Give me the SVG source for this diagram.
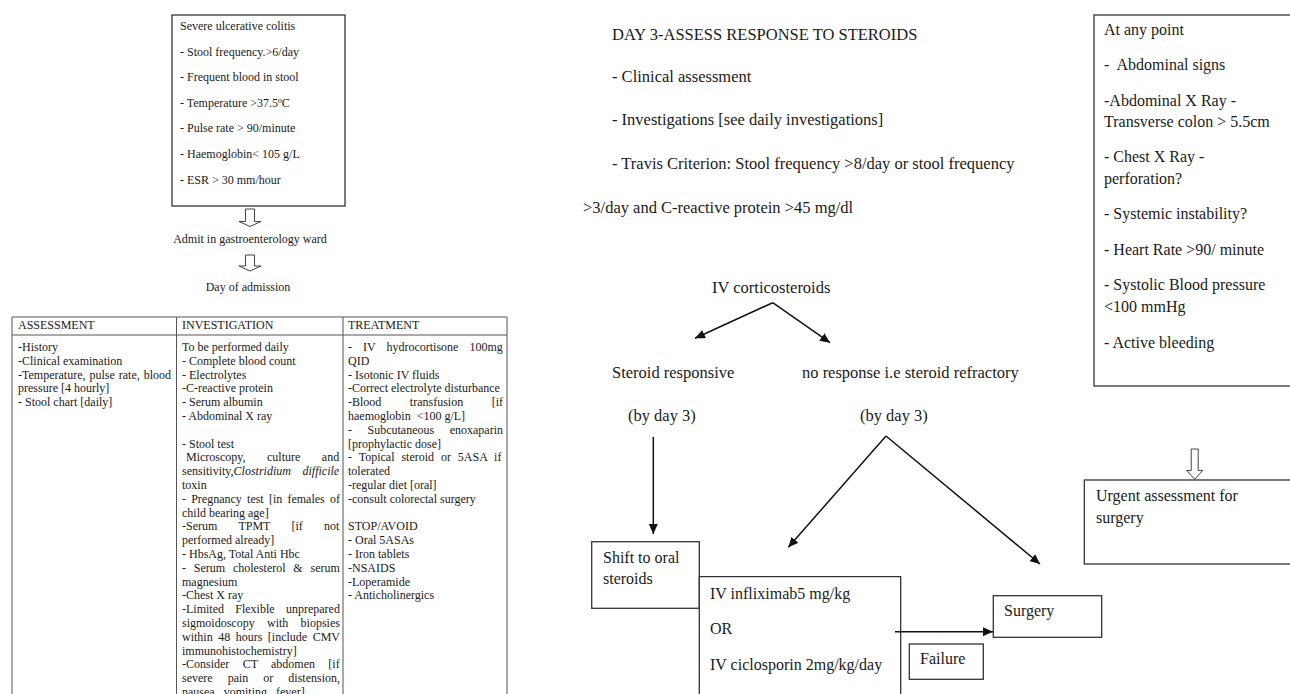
<svg xmlns="http://www.w3.org/2000/svg" width="1290" height="694" viewBox="0 0 1290 694">
<defs>
<style>
.s{font-family:"Liberation Serif","Times New Roman",serif;fill:#1a1a1a}
.t12{font-size:12px}
.t16{font-size:16.5px}
.t15{font-size:16px}
.box{fill:#fff;stroke:#333;stroke-width:1.3}
.grid{stroke:#555;stroke-width:1;fill:none}
.conn{stroke:#111;stroke-width:1.5;fill:none;marker-end:url(#ah)}
.hollow{fill:#fff;stroke:#444;stroke-width:1}
</style>
<marker id="ah" markerUnits="userSpaceOnUse" markerWidth="11" markerHeight="9" refX="10" refY="4.5" orient="auto">
<path d="M0,0 L10,4.5 L0,9 z" fill="#111"/>
</marker>
</defs>
<rect width="1290" height="694" fill="#fff"/>

<g id="severe-uc">
<rect class="box" x="172" y="15" width="173" height="191"/>
<g class="s t12">
<text x="180" y="30">Severe ulcerative colitis</text>
<text x="180" y="56">- Stool frequency.&gt;6/day</text>
<text x="180" y="81">- Frequent blood in stool</text>
<text x="180" y="107">- Temperature &gt;37.5ºC</text>
<text x="180" y="132">- Pulse rate &gt; 90/minute</text>
<text x="180" y="158">- Haemoglobin&lt; 105 g/L</text>
<text x="180" y="184">- ESR &gt; 30 mm/hour</text>
</g>
</g>

<g id="admit">
<text class="s t12" x="250" y="243" text-anchor="middle">Admit in gastroenterology ward</text>
</g>
<g id="day-admission">
<text class="s t12" x="248" y="291" text-anchor="middle">Day of admission</text>
</g>

<g id="table">
<path class="grid" d="M12,317 H507 M12,335 H507 M12,317 V700 M176.5,317 V700 M343,317 V700 M507,317 V700"/>
<g class="s t12">
<text x="18" y="329">ASSESSMENT</text>
<text x="182" y="329">INVESTIGATION</text>
<text x="348" y="329">TREATMENT</text>

<text x="18" y="351">-History</text>
<text x="18" y="364.8">-Clinical examination</text>
<text x="18" y="378.6" style="word-spacing:1px">-Temperature, pulse rate, blood</text>
<text x="18" y="392.4">pressure [4 hourly]</text>
<text x="18" y="406.2">- Stool chart [daily]</text>

<text x="182" y="351">To be performed daily</text>
<text x="182" y="364.8">- Complete blood count</text>
<text x="182" y="378.6">- Electrolytes</text>
<text x="182" y="392.4">-C-reactive protein</text>
<text x="182" y="406.2">- Serum albumin</text>
<text x="182" y="420">- Abdominal X ray</text>
<text x="182" y="447.6">- Stool test</text>
<text x="186" y="461.4" style="word-spacing:18.5px">Microscopy, culture and</text>
<text x="182" y="475.2" style="word-spacing:8.6px">sensitivity,<tspan font-style="italic">Clostridium difficile</tspan></text>
<text x="182" y="489">toxin</text>
<text x="182" y="502.8" style="word-spacing:2.2px">- Pregnancy test [in females of</text>
<text x="182" y="516.6">child bearing age]</text>
<text x="182" y="530.4" style="word-spacing:18.3px">-Serum TPMT [if not</text>
<text x="182" y="544.2">performed already]</text>
<text x="182" y="558">- HbsAg, Total Anti Hbc</text>
<text x="182" y="571.8" style="word-spacing:4.8px">- Serum cholesterol &amp; serum</text>
<text x="182" y="585.6">magnesium</text>
<text x="182" y="599.4">-Chest X ray</text>
<text x="182" y="613.2" style="word-spacing:8.3px">-Limited Flexible unprepared</text>
<text x="182" y="627" style="word-spacing:9.3px">sigmoidoscopy with biopsies</text>
<text x="182" y="640.8" style="word-spacing:2.5px">within 48 hours [include CMV</text>
<text x="182" y="654.6">immunohistochemistry]</text>
<text x="182" y="668.4" style="word-spacing:10.3px">-Consider CT abdomen [if</text>
<text x="182" y="682.2" style="word-spacing:12px">severe pain or distension,</text>
<text x="182" y="696" style="word-spacing:3px">nausea, vomiting, fever]</text>

<text x="348" y="351" style="word-spacing:8px">- IV hydrocortisone 100mg</text>
<text x="348" y="364.8">QID</text>
<text x="348" y="378.6">- Isotonic IV fluids</text>
<text x="348" y="392.4">-Correct electrolyte disturbance</text>
<text x="348" y="406.2" style="word-spacing:25.5px">-Blood transfusion [if</text>
<text x="348" y="420">haemoglobin&#160; &lt;100 g/L]</text>
<text x="348" y="433.8" style="word-spacing:12.5px">- Subcutaneous enoxaparin</text>
<text x="348" y="447.6">[prophylactic dose]</text>
<text x="348" y="461.4" style="word-spacing:3.9px">- Topical steroid or 5ASA if</text>
<text x="348" y="475.2">tolerated</text>
<text x="348" y="489">-regular diet [oral]</text>
<text x="348" y="502.8">-consult colorectal surgery</text>
<text x="348" y="530.4">STOP/AVOID</text>
<text x="348" y="544.2">- Oral 5ASAs</text>
<text x="348" y="558">- Iron tablets</text>
<text x="348" y="571.8">-NSAIDS</text>
<text x="348" y="585.6">-Loperamide</text>
<text x="348" y="599.4">- Anticholinergics</text>
</g>
</g>

<g id="day3">
<g class="s t16">
<text x="612" y="40">DAY 3-ASSESS RESPONSE TO STEROIDS</text>
<text x="612" y="82">- Clinical assessment</text>
<text x="612" y="125">- Investigations [see daily investigations]</text>
<text x="612" y="169">- Travis Criterion: Stool frequency &gt;8/day or stool frequency</text>
<text x="583" y="213">&gt;3/day and C-reactive protein &gt;45 mg/dl</text>
</g>
</g>

<g id="iv-cortico"><text class="s t16" x="712" y="293">IV corticosteroids</text></g>
<g id="steroid-responsive">
<text class="s t16" x="612" y="378">Steroid responsive</text>
<text class="s t16" x="628" y="421">(by day 3)</text>
</g>
<g id="steroid-refractory">
<text class="s t16" x="802" y="378">no response i.e steroid refractory</text>
<text class="s t16" x="860" y="421">(by day 3)</text>
</g>

<g id="shift-oral">
<rect class="box" x="591.7" y="541.7" width="107.6" height="66.6"/>
<text class="s t15" x="603" y="563">Shift to oral</text>
<text class="s t15" x="603" y="584">steroids</text>
</g>

<g id="iv-rescue">
<path class="box" d="M699.3,700 V576.7 H900.7 V700" fill="#fff"/>
<text class="s t15" x="710" y="599">IV infliximab5 mg/kg</text>
<text class="s t15" x="710" y="634">OR</text>
<text class="s t15" x="710" y="670">IV ciclosporin 2mg/kg/day</text>
</g>

<g id="surgery">
<rect class="box" x="993.3" y="595.7" width="108.4" height="41.6"/>
<text class="s t15" x="1004" y="616">Surgery</text>
</g>

<g id="failure">
<rect class="box" x="909.3" y="644" width="74" height="35.3"/>
<text class="s t15" x="920" y="664">Failure</text>
</g>

<g id="any-point">
<rect class="box" x="1094" y="15" width="210" height="371"/>
<g class="s t15">
<text x="1104" y="35">At any point</text>
<text x="1104" y="70">-&#160; Abdominal signs</text>
<text x="1104" y="106">-Abdominal X Ray -</text>
<text x="1104" y="127">Transverse colon &gt; 5.5cm</text>
<text x="1104" y="162">- Chest X Ray -</text>
<text x="1104" y="184">perforation?</text>
<text x="1104" y="219">- Systemic instability?</text>
<text x="1104" y="255">- Heart Rate &gt;90/ minute</text>
<text x="1104" y="290">- Systolic Blood pressure</text>
<text x="1104" y="312">&lt;100 mmHg</text>
<text x="1104" y="348">- Active bleeding</text>
</g>
</g>

<g id="urgent">
<rect class="box" x="1084.3" y="480" width="220" height="84"/>
<text class="s t15" x="1096" y="501">Urgent assessment for</text>
<text class="s t15" x="1096" y="523">surgery</text>
</g>

<g id="connectors">
<path class="hollow" d="M245.5,209 H254.5 V221.5 H261 L250,226.5 L239,221.5 H245.5 Z"/>
<path class="hollow" d="M245.5,255 H254.5 V266 H261 L250,271 L239,266 H245.5 Z"/>
<path class="hollow" d="M1191.2,449 H1198.2 V470.5 H1202.7 L1194.7,479.3 L1186.7,470.5 H1191.2 Z"/>
<line class="conn" x1="772.7" y1="302.7" x2="695" y2="338.3"/>
<line class="conn" x1="772.7" y1="302.7" x2="830" y2="342.7"/>
<line class="conn" x1="653.3" y1="437" x2="653.3" y2="534"/>
<line class="conn" x1="886" y1="436" x2="788.3" y2="547.3"/>
<line class="conn" x1="886" y1="436" x2="1040" y2="564"/>
<line class="conn" x1="895" y1="631.7" x2="993" y2="631.7"/>
</g>
</svg>
